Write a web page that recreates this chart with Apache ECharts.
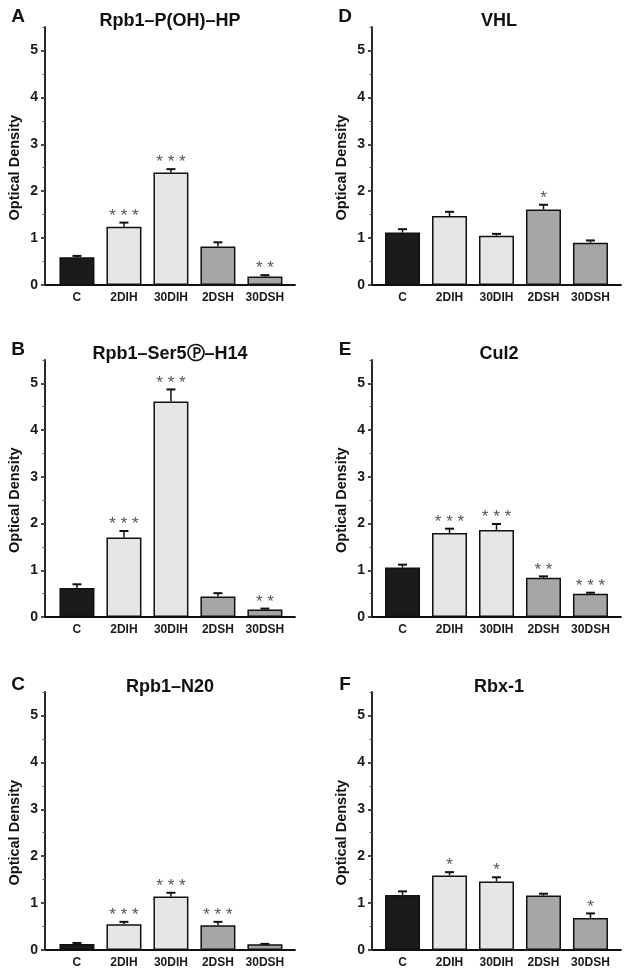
<!DOCTYPE html>
<html>
<head>
<meta charset="utf-8">
<script src="https://cdn.jsdelivr.net/npm/echarts@6/dist/echarts.min.js"></script>
<style>html,body{margin:0;padding:0;background:#fff}#c{width:628px;height:975px}</style>
</head>
<body>
<div id="c"></div>
<script>
// ---- data ----
const categories = ['C', '2DIH', '30DIH', '2DSH', '30DSH'];
const yTickValues = [0, 1, 2, 3, 4, 5];
const panelLetters = ['A', 'B', 'C', 'D', 'E', 'F'];
const panelTitles = ['Rpb1–P(OH)–HP', 'Rpb1–Ser5Ⓟ–H14', 'Rpb1–N20', 'VHL', 'Cul2', 'Rbx-1'];
const yTitle = 'Optical Density';

const meanA = [0.59, 1.24, 2.40, 0.82, 0.18];
const errA  = [0.03, 0.09, 0.07, 0.09, 0.03];
const starsA = ['', '***', '***', '', '**'];

const meanB = [0.62, 1.70, 4.61, 0.44, 0.16];
const errB  = [0.08, 0.14, 0.26, 0.07, 0.02];
const starsB = ['', '***', '***', '', '**'];

const meanC = [0.13, 0.55, 1.14, 0.53, 0.12];
const errC  = [0.02, 0.05, 0.08, 0.07, 0.01];
const starsC = ['', '***', '***', '***', ''];

const meanD = [1.12, 1.47, 1.05, 1.61, 0.90];
const errD  = [0.07, 0.09, 0.04, 0.10, 0.05];
const starsD = ['', '', '', '*', ''];

const meanE = [1.06, 1.80, 1.86, 0.84, 0.50];
const errE  = [0.06, 0.09, 0.13, 0.03, 0.02];
const starsE = ['', '***', '***', '**', '***'];

const meanF = [1.17, 1.59, 1.46, 1.16, 0.68];
const errF  = [0.08, 0.07, 0.09, 0.04, 0.10];
const starsF = ['', '*', '*', '', '*'];

// ---- layout / style ----
const means = [meanA, meanB, meanC, meanD, meanE, meanF];
const errs = [errA, errB, errC, errD, errE, errF];
const stars = [starsA, starsB, starsC, starsD, starsE, starsF];
const barColors = ['#1b1b1b', '#e6e6e6', '#e6e6e6', '#a6a6a6', '#a6a6a6'];
const FONT = '"Liberation Sans", Arial, Helvetica, sans-serif';

const colLeft = [45, 372], colWidth = [250, 249];
const xMin = [-0.68, -0.65], xMax = [4.64, 4.65];
const rowTop = [27, 360, 692], rowHeight = [258, 257, 258];
const titleX = [170, 499];
const titleY = [21, 354, 687];
const letterX = [18, 345];
const letterY = [17, 350, 685];
const yTitleX = [15, 342];

const grids = [], xAxes = [], yAxes = [], series = [], graphics = [];
for (let p = 0; p < 6; p++) {
  const col = p < 3 ? 0 : 1;
  const row = p % 3;
  grids.push({ left: colLeft[col], top: rowTop[row], width: colWidth[col], height: rowHeight[row], containLabel: false });
  xAxes.push({
    type: 'value', gridIndex: p, min: xMin[col], max: xMax[col],
    axisLine: { show: true, onZero: false, lineStyle: { color: '#111', width: 1.8 } },
    axisTick: { show: false },
    splitLine: { show: false },
    axisLabel: {
      customValues: [0, 1, 2, 3, 4],
      formatter: v => categories[Math.round(v)],
      margin: 7, color: '#1a1a1a', fontWeight: 'bold', fontSize: 12, fontFamily: FONT
    }
  });
  // major axis: line, labels, long ticks
  yAxes.push({
    type: 'value', gridIndex: p, min: 0, max: 5.5, position: 'left',
    axisLine: { show: true, onZero: false, lineStyle: { color: '#111', width: 1.8 } },
    axisTick: { show: true, customValues: yTickValues, length: 4, lineStyle: { color: '#111', width: 1.5 } },
    axisLabel: { customValues: yTickValues, margin: 7, color: '#1a1a1a', fontWeight: 'bold', fontSize: 14, fontFamily: FONT },
    splitLine: { show: false }
  });
  // minor ticks axis
  yAxes.push({
    type: 'value', gridIndex: p, min: 0, max: 5.5, interval: 0.5, position: 'left',
    axisLine: { show: false, onZero: false },
    axisTick: { show: true, length: 2.5, lineStyle: { color: '#555', width: 1 } },
    axisLabel: { show: false },
    splitLine: { show: false }
  });

  series.push({
    type: 'bar', xAxisIndex: p, yAxisIndex: 2 * p,
    barWidth: 35,
    data: means[p].map((v, i) => ({ value: [i, v], itemStyle: { color: barColors[i] } })),
    itemStyle: { borderColor: '#111', borderWidth: 1.5 },
    silent: true, z: 2
  });
  const st = stars[p];
  series.push({
    type: 'custom', xAxisIndex: p, yAxisIndex: 2 * p, z: 5, silent: true,
    data: means[p].map((v, i) => [i, v, errs[p][i]]),
    renderItem: (params, api) => {
      const i = api.value(0), m = api.value(1), e = api.value(2);
      const base = api.coord([i, m]);
      const top = api.coord([i, m + e]);
      const children = [
        { type: 'line', shape: { x1: base[0], y1: base[1], x2: top[0], y2: top[1] }, style: { stroke: '#111', lineWidth: 1.5 } },
        { type: 'line', shape: { x1: top[0] - 4.5, y1: top[1], x2: top[0] + 4.5, y2: top[1] }, style: { stroke: '#111', lineWidth: 2 } }
      ];
      const s = st[params.dataIndex];
      if (s) {
        children.push({
          type: 'text',
          style: { text: s.split('').join(' '), x: top[0], y: top[1] + 2, align: 'center', verticalAlign: 'bottom', fill: '#555', font: '17px ' + FONT }
        });
      }
      return { type: 'group', children };
    }
  });

  graphics.push({
    type: 'text', x: letterX[col], y: letterY[row],
    style: { text: panelLetters[p], align: 'center', verticalAlign: 'middle', fill: '#111', font: 'bold 19px ' + FONT }
  });
  graphics.push({
    type: 'text', x: titleX[col], y: titleY[row],
    style: { text: panelTitles[p], align: 'center', verticalAlign: 'middle', fill: '#111', font: 'bold 18px ' + FONT }
  });
  const zeroY = rowTop[row] + rowHeight[row];
  const unit = rowHeight[row] / 5.5;
  graphics.push({
    type: 'text', x: yTitleX[col], y: zeroY - 2.5 * unit, rotation: Math.PI / 2,
    style: { text: yTitle, align: 'center', verticalAlign: 'middle', fill: '#111', font: 'bold 14.5px ' + FONT }
  });
}

const chart = echarts.init(document.getElementById('c'), null, { renderer: 'canvas' });
chart.setOption({
  animation: false,
  backgroundColor: '#fff',
  grid: grids, xAxis: xAxes, yAxis: yAxes, series: series,
  graphic: graphics
});
</script>
</body>
</html>
